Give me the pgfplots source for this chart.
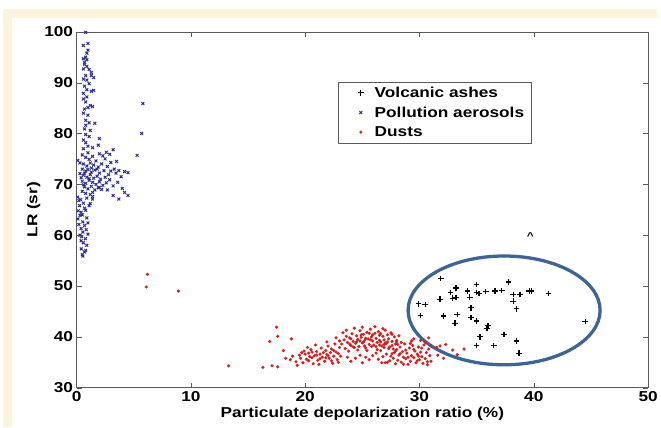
\documentclass[border=0pt]{standalone}
\usepackage{fontspec}
\setmainfont{Liberation Sans}[FakeStretch=1.2]
\usepackage{pgfplots}
\pgfplotsset{compat=1.18}
\definecolor{cream}{RGB}{252,243,220}
\definecolor{pollblue}{RGB}{45,45,150}
\definecolor{dustred}{RGB}{214,30,30}
\definecolor{ellblue}{RGB}{62,100,150}
\definecolor{axgray}{RGB}{90,90,90}
\begin{document}
\begin{tikzpicture}
\fill[white] (0bp,0bp) rectangle (661bp,430bp);
\fill[cream] (3bp,0bp) rectangle (661bp,421bp);
\fill[white] (12bp,0bp) rectangle (661bp,412bp);
\begin{axis}[
 at={(77bp,40bp)}, anchor=south west, scale only axis, width=575bp, height=358bp,
 xmin=0, xmax=50, ymin=30, ymax=100,
 xtick={0,10,...,50}, ytick={30,40,...,100},
 tick align=inside, major tick length=5bp,
 axis line style={axgray}, tick style={axgray},
 ticklabel style={font=\bfseries\fontsize{14.5}{16}\selectfont},
 /pgf/number format/assume math mode=true,
 xlabel={Particulate depolarization ratio (\%)}, ylabel={LR (sr)},
 label style={font=\bfseries\fontsize{14.5}{16}\selectfont},
 xlabel style={yshift=1bp}, ylabel style={yshift=-3bp},
 legend cell align=left,
 legend image code/.code={\path[draw=none,fill=none] (0bp,-3bp) rectangle (30bp,3bp); \draw[#1] plot coordinates {(18bp,0bp)};},
 legend style={at={(0.457,0.860)}, anchor=north west, draw=axgray, fill=white,
   font=\bfseries\fontsize{14.5}{16}\selectfont, inner xsep=5bp, inner ysep=3bp, row sep=4bp},
]
\addplot[only marks, mark=+, mark size=2.8bp, line width=1.2bp, black] coordinates {
(31.86,51.5)(33.2,49.6)(32.7,48.7)(32.9,47.6)(33.2,47.7)(31.8,47.4)(29.9,46.5)(30.5,46.4)
(30.1,44.2)(32.1,44.1)(33.3,44.4)(33.1,42.7)(34.2,49.0)(35.0,50.3)(35.0,48.7)(35.2,48.5)
(35.8,48.9)(36.6,49.0)(37.2,49.1)(34.4,47.8)(37.8,50.8)(38.2,48.3)(38.8,48.3)(39.6,49.0)
(39.8,49.0)(38.2,47.0)(41.3,48.5)(34.5,45.7)(38.5,45.5)(34.5,43.8)(35.0,43.1)(35.9,41.7)
(37.4,40.5)(35.3,40.0)(38.5,39.2)(35.0,38.3)(36.5,38.3)(38.7,36.8)(44.5,43.0)(36.0,42.2)
};
\addlegendentry{Volcanic ashes}
\addplot[only marks, mark=x, mark size=2bp, line width=1bp, pollblue] coordinates {
(0.8,99.9)(1.0,97.7)(0.6,97.3)(0.9,95.8)(0.8,95.0)(0.6,94.7)(0.9,94.5)(0.7,94.0)(0.9,93.2)
(0.6,92.7)(1.1,92.6)(1.3,92.0)(0.8,91.4)(1.3,91.4)(0.6,90.7)(0.9,90.5)(1.5,91.0)(0.7,89.3)
(0.9,88.6)(1.3,88.3)(1.5,88.5)(0.6,87.9)(0.6,86.8)(0.8,86.2)(1.2,85.5)(1.0,85.1)(1.4,85.3)
(0.6,84.0)(1.0,83.6)(0.8,82.6)(1.1,82.1)(0.8,81.6)(1.6,82.0)(0.8,79.8)(1.1,79.4)(0.6,78.7)
(2.0,79.0)(0.8,78.2)(1.0,96.4)(0.7,93.6)(1.1,89.8)(0.9,87.2)(0.7,84.8)(1.2,80.6)(0.7,80.9)
(1.0,77.5)(0.6,77.0)(1.4,77.2)
(5.8,85.9)(5.7,80.0)(5.3,75.7)
(3.2,76.8)(2.6,76.3)(2.9,75.9)(2.3,75.6)(1.9,77.7)(0.1,74.7)(0.3,74.2)
(0.5,75.8)(0.8,75.3)(1.1,74.9)(1.4,75.5)(1.7,74.6)(0.6,74.0)(0.9,73.6)(1.2,74.2)(1.5,73.8)
(1.9,73.4)(2.2,74.0)(0.5,73.0)(0.8,72.6)(1.0,72.9)(1.3,72.4)(1.6,72.8)(2.0,72.2)(2.4,72.7)
(0.6,71.8)(0.9,71.4)(1.2,71.9)(1.5,71.2)(1.8,71.6)(2.1,71.0)(2.5,71.4)(0.5,70.6)(0.8,70.2)
(1.1,70.8)(1.4,70.4)(1.7,70.0)(2.0,70.5)(2.3,69.8)(0.7,69.5)(1.0,69.1)(1.3,69.6)(1.6,68.9)
(1.9,69.3)(0.5,68.6)(0.8,68.2)(1.2,68.0)(0.4,71.3)(0.3,72.1)(2.7,73.5)(2.8,71.9)(3.0,72.6)
(2.6,70.3)(3.3,73.0)(3.0,74.3)(2.5,75.0)(3.5,74.5)(2.0,76.0)(1.0,76.2)(1.3,73.2)(0.7,72.2)
(1.8,73.0)(1.1,71.1)(2.2,69.0)(0.6,69.9)(1.4,67.6)(0.9,67.3)
(3.7,72.7)(4.2,72.5)(4.5,72.3)(3.45,72.2)(3.6,70.4)(3.2,69.7)(4.2,68.4)(3.7,67.1)(4.5,67.8)
(3.2,67.8)(2.7,68.9)(2.0,69.4)(1.4,68.4)(3.9,71.5)(2.9,70.9)(4.0,69.2)
(1.4,67.1)(1.1,65.8)(0.8,64.9)(0.26,65.8)(0.41,64.5)(0.12,63.2)(0.55,62.6)(0.7,61.9)
(0.55,60.6)(0.84,61.1)(0.78,59.3)(0.41,57.3)(0.7,56.7)(0.55,55.9)(0.2,66.8)(0.1,67.5)
(0.35,67.0)(0.6,66.3)(0.3,63.9)(0.5,64.0)(0.2,62.1)(0.9,63.4)(1.0,62.4)(0.4,61.3)(0.3,60.0)
(0.6,58.5)(0.9,58.0)(0.4,58.9)(0.8,57.0)(0.5,56.2)(1.2,66.2)(0.15,64.8)(0.7,65.3)(0.45,59.7)
(1.0,60.2)
};
\addlegendentry{Pollution aerosols}
\addplot[only marks, mark=*, mark size=1.4bp, draw=none, fill=dustred, dustred] coordinates {
(6.2,52.3)(6.1,49.8)(8.9,49.0)(13.3,34.3)(16.3,34.0)(17.5,41.9)(17.6,40.1)(16.9,39.1)
(18.8,39.6)(18.1,37.3)(17.1,34.3)(17.6,34.1)(18.3,35.8)(18.7,35.5)
(19.2,35.1)(19.5,36.4)(19.8,34.9)(20.1,35.6)(20.3,36.8)(20.5,37.5)(20.6,35.9)(20.8,36.3)
(21.0,37.1)(21.1,35.4)(21.3,36.6)(21.4,37.8)(21.5,36.0)(21.7,35.2)(21.8,37.3)(21.9,36.5)
(22.0,38.2)(22.1,35.8)(22.2,36.9)(22.3,37.6)(22.4,34.8)(22.5,36.2)(22.6,38.6)(22.7,37.0)
(22.8,35.5)(22.9,36.7)(23.0,37.9)(20.2,37.9)(19.9,37.2)(20.9,38.4)(21.2,34.6)(19.6,35.8)
(20.4,36.1)(21.6,36.9)(22.3,35.3)(20.7,34.7)(18.9,36.2)(19.3,34.4)(21.9,39.0)(20.0,36.6)
(20.6,37.0)(21.0,36.4)(21.3,35.7)(22.0,36.3)(22.5,37.3)(20.3,35.3)(21.8,35.9)(22.9,35.0)
(19.7,36.9)(23.1,36.2)
(23.2,38.6)(23.4,39.4)(23.5,37.7)(23.6,40.1)(23.7,38.9)(23.8,37.2)(23.9,39.8)(24.0,38.3)
(24.1,40.6)(24.2,39.1)(24.3,37.9)(24.4,38.7)(24.5,40.2)(24.6,39.5)(24.7,38.1)(24.8,41.2)
(24.9,39.9)(25.0,38.8)(25.1,40.5)(25.2,39.3)(25.3,37.8)(25.4,40.9)(25.5,39.6)(25.6,38.5)
(25.7,41.5)(25.8,40.0)(25.9,39.2)(26.0,38.4)(26.1,40.7)(26.2,39.7)(26.3,38.9)(26.4,41.0)
(26.5,40.3)(26.6,39.0)(26.7,38.2)(26.8,40.1)(26.9,39.4)(27.0,41.3)(27.1,38.7)(27.2,40.4)
(27.3,39.6)(27.4,38.0)(27.5,40.8)(27.6,39.1)(27.7,37.6)(27.8,40.0)(27.9,38.6)(24.3,41.7)
(25.0,41.9)(26.1,42.0)(26.8,41.6)(23.3,40.8)(24.6,37.4)(25.4,37.3)(26.3,37.5)(25.1,39.0)
(25.3,39.7)(25.7,39.4)(24.8,39.2)(24.9,40.4)(25.9,40.4)(26.6,40.6)(24.2,38.0)(23.9,38.6)
(25.6,40.7)(26.2,38.1)(27.2,39.0)(24.5,39.0)(25.2,38.2)(24.0,39.6)(26.9,38.5)(27.6,40.5)
(28.0,39.3)(28.2,40.2)(28.4,38.9)(23.0,39.2)(22.7,39.8)(23.6,41.3)(25.8,38.1)(26.5,39.3)
(26.2,36.8)(26.4,35.6)(26.6,37.3)(26.8,36.1)(27.0,34.9)(27.1,36.6)(27.3,37.7)(27.4,35.3)
(27.5,36.2)(27.6,38.3)(27.7,35.8)(27.8,36.9)(27.9,34.7)(28.0,37.5)(28.1,35.4)(28.2,36.4)
(28.3,38.0)(28.4,35.0)(28.5,37.1)(28.6,36.0)(28.7,38.6)(28.8,35.7)(28.9,36.8)(29.0,34.6)
(29.1,37.8)(29.2,35.2)(29.3,36.3)(29.4,38.3)(29.5,35.9)(29.6,37.2)(29.7,34.9)(29.8,36.6)
(29.9,38.0)(30.0,35.5)(30.1,37.0)(30.2,36.1)(30.3,34.8)(30.4,38.4)(30.5,35.7)(30.6,36.9)
(30.7,35.1)(30.8,37.6)(30.9,36.3)(26.9,37.9)(27.2,35.0)(27.9,37.2)(28.3,36.7)(28.6,34.6)
(29.0,36.0)(29.5,37.5)(29.9,36.2)(30.2,37.8)(27.6,36.7)(28.1,38.5)(29.2,38.7)(29.8,35.3)
(26.5,38.4)(27.0,38.8)(28.8,37.4)(30.5,38.9)(29.3,39.2)(28.0,39.0)(31.0,35.2)(30.7,34.5)
(26.7,34.9)(25.9,36.3)(25.6,35.5)(25.3,36.0)(24.8,36.4)(24.4,35.8)(23.7,36.0)(24.0,35.2)
(25.0,34.9)(29.5,39.6)(30.1,39.3)(30.8,39.8)(31.0,38.2)
(31.5,37.9)(31.8,38.2)(32.3,38.5)(32.9,37.4)(33.3,36.5)(31.6,36.4)(32.1,35.8)(33.9,37.6)
};
\addlegendentry{Dusts}
\addplot[only marks, mark=text, text mark={\bfseries\textasciicircum}, forget plot, black] coordinates {(39.7,59.8)};
\draw[ellblue, line width=3.3bp] (axis cs:37.4,45.2) ellipse [x radius=8.4, y radius=10.7];
\end{axis}
\end{tikzpicture}
\end{document}
